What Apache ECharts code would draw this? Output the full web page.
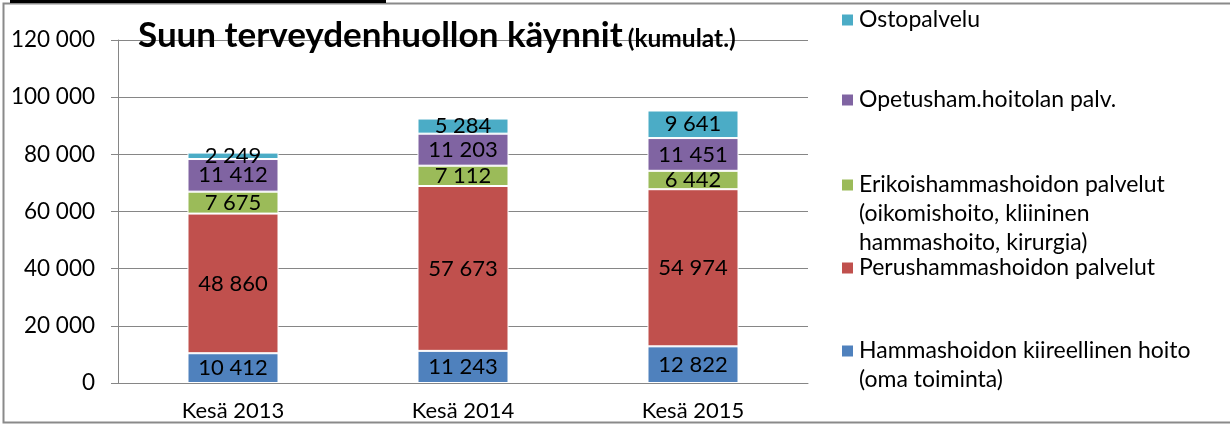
<!DOCTYPE html>
<html>
<head>
<meta charset="utf-8">
<script src="https://cdn.jsdelivr.net/npm/echarts@6/dist/echarts.min.js"></script>
<style>
  html, body { margin: 0; padding: 0; background: #fff; }
  #chart { width: 1230px; height: 426px; }
</style>
</head>
<body>
<div id="chart"></div>
<script>
const categories = ['Kesä 2013', 'Kesä 2014', 'Kesä 2015']
const seriesNames = [
  'Hammashoidon kiireellinen hoito (oma toiminta)',
  'Perushammashoidon palvelut',
  'Erikoishammashoidon palvelut (oikomishoito, kliininen hammashoito, kirurgia)',
  'Opetusham.hoitolan palv.',
  'Ostopalvelu'
]
const kiireellinen = [10412, 11243, 12822]
const perus = [48860, 57673, 54974]
const erikois = [7675, 7112, 6442]
const opetus = [11412, 11203, 11451]
const osto = [2249, 5284, 9641]
const yTicks = [0, 20000, 40000, 60000, 80000, 100000, 120000]

const colors = ['#4F81BD', '#C0504D', '#9BBB59', '#8064A2', '#4BACC6']
const values = [kiireellinen, perus, erikois, opetus, osto]

// legend labels wrapped like the original
const legendText = {
  [seriesNames[0]]: 'Hammashoidon kiireellinen hoito\n(oma toiminta)',
  [seriesNames[1]]: 'Perushammashoidon palvelut',
  [seriesNames[2]]: 'Erikoishammashoidon palvelut\n(oikomishoito, kliininen\nhammashoito, kirurgia)',
  [seriesNames[3]]: 'Opetusham.hoitolan palv.',
  [seriesNames[4]]: 'Ostopalvelu'
}

const fmt = v => String(v).replace(/\B(?=(\d{3})+(?!\d))/g, ' ')
const FONT = 'Lato'
const LH = 29

const chart = echarts.init(document.getElementById('chart'))

// one legend per entry; blank lines in front keep the icon on the first text line
const legendTops = [351, 268, 185, 100, 20]
const legends = seriesNames.map((name, i) => {
  const lines = legendText[name].split('\n').length
  const boxH = (2 * lines - 1) * LH
  return {
    data: [name],
    left: 840,
    top: legendTops[i] - boxH / 2,
    padding: 0,
    itemWidth: 13,
    itemHeight: 13,
    itemGap: 0,
    icon: 'rect',
    selectedMode: false,
    formatter: n => '\n'.repeat(lines - 1) + legendText[n],
    textStyle: {
      fontFamily: FONT,
      fontSize: 23,
      lineHeight: LH,
      color: '#000'
    }
  }
})

chart.setOption({
  animation: false,
  color: colors,
  title: {
    left: 133,
    top: 13,
    text: '{a|Suun terveydenhuollon käynnit} {b|(kumulat.)}',
    textStyle: {
      rich: {
        a: { fontFamily: FONT, fontWeight: 'bold', fontSize: 35, color: '#000', verticalAlign: 'bottom' },
        b: { fontFamily: FONT, fontWeight: 'bold', fontSize: 24.5, color: '#000', verticalAlign: 'bottom', padding: [0, 0, 1, 0] }
      }
    }
  },
  legend: legends,
  grid: { left: 118, right: 422, top: 40, bottom: 43 },
  xAxis: {
    type: 'category',
    data: categories,
    axisLine: { lineStyle: { color: '#868686' } },
    axisTick: { length: 8, lineStyle: { color: '#868686' } },
    axisLabel: { fontFamily: FONT, fontSize: 22, color: '#000', margin: 17 }
  },
  yAxis: {
    type: 'value',
    min: 0,
    max: 120000,
    interval: 20000,
    axisLine: { show: true, lineStyle: { color: '#868686' } },
    axisTick: { show: true, length: 7, lineStyle: { color: '#868686' } },
    splitLine: { lineStyle: { color: '#868686' } },
    axisLabel: {
      fontFamily: FONT, fontSize: 22.5, color: '#000', margin: 23,
      formatter: v => yTicks.includes(v) ? fmt(v) : ''
    }
  },
  series: seriesNames.map((name, i) => ({
    name,
    type: 'bar',
    stack: 'total',
    barWidth: 91,
    data: values[i],
    itemStyle: { color: colors[i], borderColor: '#fff', borderWidth: 1 },
    label: {
      show: true,
      position: 'inside',
      fontFamily: FONT,
      fontSize: 22,
      color: '#000',
      formatter: p => fmt(p.value)
    }
  })),
  graphic: [
    {
      type: 'rect',
      shape: { x: 3.5, y: 3.5, width: 1240, height: 419 },
      style: { fill: null, stroke: '#8a8a8a', lineWidth: 2 },
      silent: true
    },
    {
      type: 'rect',
      shape: { x: 10, y: 0, width: 376, height: 3 },
      style: { fill: '#000' },
      silent: true
    }
  ]
})
</script>
</body>
</html>
